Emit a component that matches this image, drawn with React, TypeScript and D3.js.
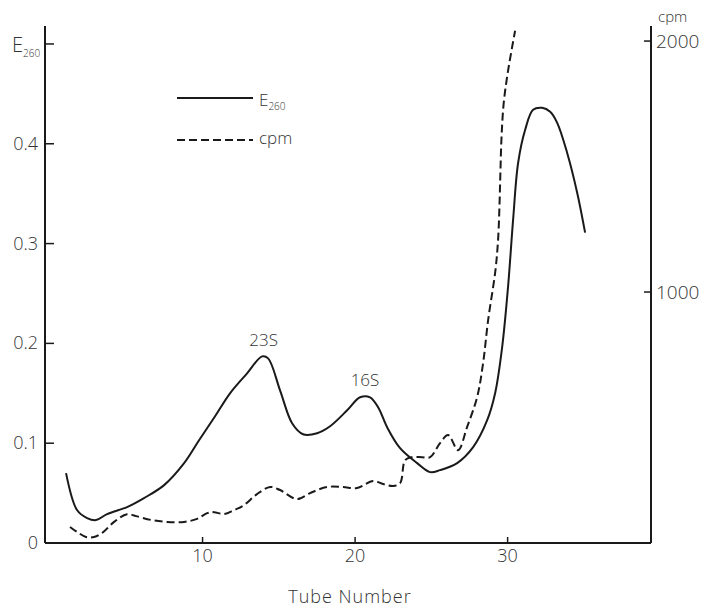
import React from 'react';
import * as d3 from 'd3';

// E260 curve (solid, left axis)
const E_TUBE = [1.05, 1.77, 2.43, 3.02, 3.74, 5.05, 6.16, 7.48, 8.79, 9.77, 10.82, 11.8, 12.92, 13.9, 14.3, 15.08, 15.87, 16.59, 17.51, 18.36, 19.48, 20.33, 20.98, 21.51, 22.1, 22.95, 24.07, 24.92, 25.57, 26.69, 27.74, 28.66, 29.18, 29.64, 30.03, 30.36, 30.69, 31.15, 31.67, 32.26, 32.79, 33.25, 33.9, 34.56, 35.08];
const E_VALUE = [0.07, 0.033, 0.025, 0.023, 0.029, 0.036, 0.045, 0.058, 0.08, 0.103, 0.127, 0.15, 0.17, 0.187, 0.185, 0.153, 0.12, 0.109, 0.11, 0.117, 0.133, 0.146, 0.146, 0.136, 0.116, 0.095, 0.08, 0.071, 0.073, 0.08, 0.096, 0.123, 0.15, 0.196, 0.257, 0.324, 0.381, 0.414, 0.434, 0.436, 0.432, 0.421, 0.391, 0.351, 0.311];

// cpm curve (dashed, right axis)
const CPM_TUBE = [1.31, 1.77, 2.36, 2.89, 3.41, 4.2, 5.05, 5.64, 6.62, 7.67, 8.79, 9.64, 10.3, 10.75, 11.41, 12.07, 12.72, 13.57, 14.43, 15.08, 16.2, 17.05, 18.16, 19.21, 20.13, 21.18, 21.84, 22.49, 22.95, 23.28, 23.74, 24.39, 24.92, 25.57, 26.1, 26.75, 27.34, 28.0, 28.39, 28.72, 29.2, 29.38, 29.47, 29.53, 29.6, 29.74, 30.03, 30.49];
const CPM_VALUE = [64, 44, 24, 24, 40, 84, 115, 107, 92, 84, 84, 96, 119, 123, 115, 131, 151, 195, 223, 211, 175, 199, 223, 223, 219, 247, 235, 227, 239, 330, 342, 342, 342, 398, 430, 370, 462, 581, 716, 887, 1086, 1214, 1353, 1484, 1616, 1751, 1882, 2041];

const X_TICKS = [10, 20, 30];
const LEFT_TICKS = [0.1, 0.2, 0.3, 0.4, 0.5];
const LEFT_LABELS = ['0.1', '0.2', '0.3', '0.4', ''];
const RIGHT_TICKS = [1000, 2000];

const FONT = "'Open Sans', 'DejaVu Sans', sans-serif";
const INK = '#1a1a1a';
const TEXT = '#333';

export default function App() {
    const width = 711;
    const height = 609;

    const x = d3.scaleLinear().domain([-0.33, 39.4]).range([45, 651]);
    const yLeft = d3.scaleLinear().domain([0, 0.518]).range([543, 26]);
    const yRight = d3.scaleLinear().domain([0, 2060]).range([543, 26]);

    const [x0, x1] = x.range();
    const [yBottom, yTop] = yLeft.range();

    const eLine = d3.line<number>()
        .x((d, i) => x(E_TUBE[i]))
        .y(d => yLeft(d))
        .curve(d3.curveCatmullRom.alpha(0.5));

    const cpmLine = d3.line<number>()
        .x((d, i) => x(CPM_TUBE[i]))
        .y(d => yRight(d))
        .curve(d3.curveCatmullRom.alpha(0.5));

    return (
        <svg width={width} height={height} style={{ position: 'absolute', left: 0, top: 0, background: '#fff' }}
            fontFamily={FONT} fontWeight={300}>
            <rect width={width} height={height} fill="#fff" />

            {/* axes frame */}
            <line x1={x0} x2={x0} y1={yTop} y2={yBottom} stroke={INK} strokeWidth={2} />
            <line x1={x1} x2={x1} y1={yTop} y2={yBottom} stroke={INK} strokeWidth={2} />
            <line x1={x0} x2={x1} y1={yBottom} y2={yBottom} stroke={INK} strokeWidth={2} />

            {/* bottom ticks */}
            {X_TICKS.map(t => (
                <g key={'x' + t}>
                    <line x1={x(t)} x2={x(t)} y1={yBottom} y2={yBottom - 6} stroke={INK} strokeWidth={1.5} />
                    <text x={x(t)} y={yBottom + 19} textAnchor="middle" fontSize={18} fill={TEXT}>{t}</text>
                </g>
            ))}
            <text x={(x0 + x1) / 2 + 2} y={603} textAnchor="middle" fontSize={18} fill={TEXT} letterSpacing={1}>Tube Number</text>

            {/* left ticks */}
            <text x={38} y={yBottom + 6} textAnchor="end" fontSize={18} fill={TEXT}>0</text>
            {LEFT_TICKS.map((t, i) => (
                <g key={'l' + t}>
                    <line x1={x0} x2={x0 + 9} y1={yLeft(t)} y2={yLeft(t)} stroke={INK} strokeWidth={1.5} />
                    <text x={38} y={yLeft(t) + 6} textAnchor="end" fontSize={18} fill={TEXT}>{LEFT_LABELS[i]}</text>
                </g>
            ))}
            <text x={12} y={52} fontSize={20} fill={TEXT}>E<tspan fontSize={10} dy={5}>260</tspan></text>

            {/* right ticks */}
            {RIGHT_TICKS.map(t => (
                <g key={'r' + t}>
                    <line x1={x1 - 7} x2={x1} y1={yRight(t)} y2={yRight(t)} stroke={INK} strokeWidth={1.5} />
                    <text x={x1 + 5} y={yRight(t) + 7} fontSize={19} fill={TEXT}>{t}</text>
                </g>
            ))}
            <text x={658} y={22} fontSize={15} fill={TEXT}>cpm</text>

            {/* curves */}
            <path d={eLine(E_VALUE) || ''} fill="none" stroke={INK} strokeWidth={2} />
            <path d={cpmLine(CPM_VALUE) || ''} fill="none" stroke={INK} strokeWidth={2} strokeDasharray="8,4" />

            {/* peak labels */}
            <text x={x(14.0)} y={346} textAnchor="middle" fontSize={17} fill={TEXT}>23S</text>
            <text x={x(20.65)} y={386} textAnchor="middle" fontSize={17} fill={TEXT}>16S</text>

            {/* legend */}
            <line x1={177} x2={253} y1={98} y2={98} stroke={INK} strokeWidth={2} />
            <text x={259} y={106} fontSize={17} fill={TEXT}>E<tspan fontSize={10} dy={4}>260</tspan></text>
            <line x1={177} x2={253} y1={140} y2={140} stroke={INK} strokeWidth={2} strokeDasharray="8,4" />
            <text x={259} y={144} fontSize={17} fill={TEXT}>cpm</text>
        </svg>
    );
}
